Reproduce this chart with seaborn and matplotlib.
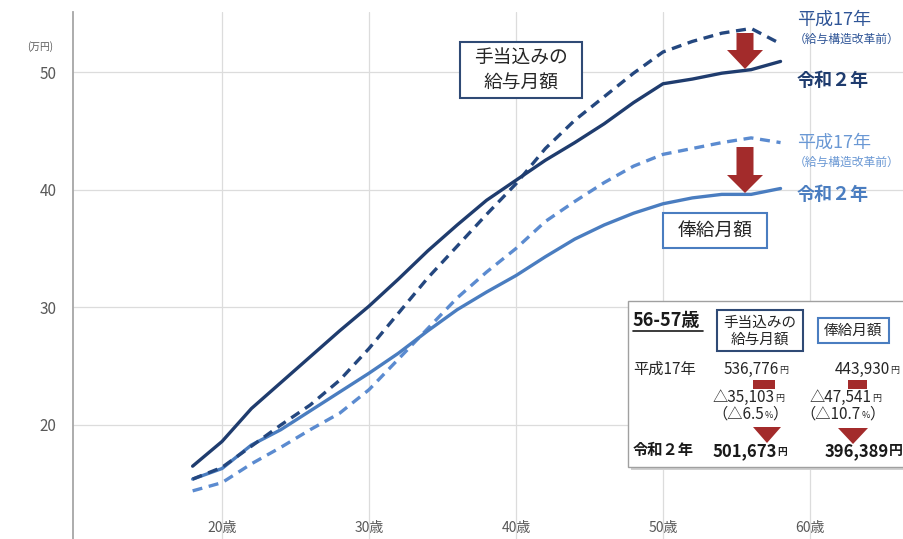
import matplotlib
matplotlib.use("Agg")
import matplotlib.pyplot as plt
import matplotlib.patches as mpatches
import seaborn as sns
import pandas as pd

# ---- data (万円) ----
ages = [18, 20, 22, 24, 26, 28, 30, 32, 34, 36, 38, 40, 42, 44, 46, 48, 50, 52, 54, 56, 58]
r2_total = [16.5, 18.6, 21.4, 23.6, 25.8, 28.0, 30.1, 32.4, 34.8, 37.0, 39.1, 40.8, 42.5, 44.0, 45.6, 47.4, 49.0, 49.4, 49.9, 50.2, 50.9]
h17_total = [15.4, 16.4, 18.2, 20.0, 21.7, 23.8, 26.5, 29.5, 32.5, 35.2, 37.9, 40.5, 43.5, 45.9, 47.9, 49.9, 51.7, 52.6, 53.3, 53.7, 52.4]
r2_base = [15.4, 16.3, 18.3, 19.6, 21.2, 22.8, 24.4, 26.1, 28.0, 29.8, 31.3, 32.7, 34.3, 35.8, 37.0, 38.0, 38.8, 39.3, 39.6, 39.6, 40.1]
h17_base = [14.4, 15.1, 16.7, 18.1, 19.6, 21.0, 23.0, 25.6, 28.2, 30.8, 33.0, 35.0, 37.3, 39.0, 40.6, 42.0, 43.0, 43.5, 44.0, 44.4, 44.0]

xtick_vals = [20, 30, 40, 50, 60]
xtick_labels = ["20歳", "30歳", "40歳", "50歳", "60歳"]
ytick_vals = [20, 30, 40, 50]

series_names = ["平成17年 俸給月額", "令和2年 俸給月額", "平成17年 手当込み", "令和2年 手当込み"]
series_values = [h17_base, r2_base, h17_total, r2_total]

df = pd.concat([pd.DataFrame({"age": ages, "value": v, "series": n})
                for n, v in zip(series_names, series_values)], ignore_index=True)

sns.set_theme(style="white")
plt.rcParams["font.family"] = ["Noto Sans CJK JP", "DejaVu Sans"]

W, H = 904, 539
fig = plt.figure(figsize=(W / 100, H / 100), dpi=100)
ax_left, ax_top = 73, 12
ax = fig.add_axes([ax_left / W, 0, 1 - ax_left / W, (H - ax_top) / H])

palette = {
    "平成17年 俸給月額": "#5B8BD0",
    "令和2年 俸給月額": "#4A7DC0",
    "平成17年 手当込み": "#24477F",
    "令和2年 手当込み": "#1F3C6E",
}
dashes = {
    "平成17年 俸給月額": (3, 2),
    "令和2年 俸給月額": "",
    "平成17年 手当込み": (3, 2),
    "令和2年 手当込み": "",
}
sns.lineplot(data=df, x="age", y="value", hue="series", style="series",
             palette=palette, dashes=dashes, linewidth=2.4, legend=False, ax=ax,
             hue_order=series_names, style_order=series_names)

ax.set_xlim(9.86, 66.4)
ax.set_ylim(10.31, 55.1)
ax.set_xticks(xtick_vals)
ax.set_xticklabels(xtick_labels)
ax.set_yticks(ytick_vals)
ax.set_xlabel("")
ax.set_ylabel("")
ax.grid(True, color="#DCDCDC", linewidth=0.9)
ax.set_axisbelow(True)
for s in ["top", "right", "bottom"]:
    ax.spines[s].set_visible(False)
ax.spines["left"].set_color("#A6A6A6")
ax.spines["left"].set_linewidth(1.3)
ax.tick_params(axis="x", length=0, pad=-13, labelsize=10, labelcolor="#595959")
ax.tick_params(axis="y", length=0, pad=12, labelsize=11, labelcolor="#595959")


def fx(x):
    return x / W


def fy(y):
    return 1 - y / H


def ftext(x, y, s, **kw):
    kw.setdefault("va", "center")
    fig.text(fx(x), fy(y), s, **kw)


def frect(x0, y0, x1, y1, **kw):
    r = mpatches.Rectangle((fx(x0), fy(y1)), fx(x1) - fx(x0), fy(y0) - fy(y1),
                           transform=fig.transFigure, **kw)
    fig.add_artist(r)


def fpoly(pts, **kw):
    p = mpatches.Polygon([(fx(a), fy(b)) for a, b in pts], closed=True,
                         transform=fig.transFigure, **kw)
    fig.add_artist(p)


ftext(40, 47, "(万円)", fontsize=7, color="#595959", ha="center")

# down arrows on chart
red = "#A32B2B"


def down_arrow(cx, top, head_start, tip, shaft_hw, head_hw):
    fpoly([(cx - shaft_hw, top), (cx + shaft_hw, top), (cx + shaft_hw, head_start),
           (cx + head_hw, head_start), (cx, tip), (cx - head_hw, head_start),
           (cx - shaft_hw, head_start)], facecolor=red, edgecolor="none")


down_arrow(745, 33, 50, 69, 8.5, 18)
down_arrow(745, 147, 175, 193, 8.5, 18)

# right-side labels
ftext(797, 20, "平成17年", fontsize=13, color="#2F5597", ha="left")
ftext(794, 39, "（給与構造改革前）", fontsize=8.5, color="#2F5597", ha="left")
ftext(797, 80, "令和２年", fontsize=13, color="#1F3C6E", ha="left", fontweight="bold")
ftext(797, 143, "平成17年", fontsize=13, color="#6A98D4", ha="left")
ftext(794, 162, "（給与構造改革前）", fontsize=8.5, color="#6A98D4", ha="left")
ftext(797, 194, "令和２年", fontsize=13, color="#4A7DC0", ha="left", fontweight="bold")

# callout boxes
frect(460, 42, 582, 98, facecolor="white", edgecolor="#2F4A75", linewidth=1.5)
ftext(521, 70, "手当込みの\n給与月額", fontsize=13.5, color="#262626", ha="center",
      linespacing=1.3, multialignment="center")
frect(663, 213, 767, 248, facecolor="white", edgecolor="#4A7DC0", linewidth=1.5)
ftext(715, 231, "俸給月額", fontsize=13.5, color="#262626", ha="center")

# summary table box
frect(631, 304, 912, 470, facecolor="#D0D0D0", edgecolor="none")
frect(628, 301, 909, 467, facecolor="white", edgecolor="#A0A0A0", linewidth=1.0)
ftext(633, 321, "56-57歳", fontsize=13, color="#1A1A1A", ha="left", fontweight="bold")
fig.add_artist(plt.Line2D([fx(633), fx(703)], [fy(331), fy(331)], color="#1A1A1A",
                          linewidth=1.2, transform=fig.transFigure))
frect(717, 310, 803, 351, facecolor="white", edgecolor="#2F4A75", linewidth=1.5)
ftext(760, 331, "手当込みの\n給与月額", fontsize=10.5, color="#262626", ha="center",
      linespacing=1.25, multialignment="center")
frect(818, 318, 889, 343, facecolor="white", edgecolor="#4A7DC0", linewidth=1.5)
ftext(853, 331, "俸給月額", fontsize=10.5, color="#262626", ha="center")

ftext(633, 369, "平成17年", fontsize=11, color="#262626", ha="left")
ftext(779, 369, "536,776", fontsize=11, color="#262626", ha="right")
ftext(779, 370, "円", fontsize=6.5, color="#262626", ha="left")
ftext(890, 369, "443,930", fontsize=11, color="#262626", ha="right")
ftext(890, 370, "円", fontsize=6.5, color="#262626", ha="left")

frect(753, 380, 775, 389, facecolor=red, edgecolor="none")
frect(848, 380, 867, 389, facecolor=red, edgecolor="none")

ftext(775, 397, "△35,103", fontsize=11, color="#262626", ha="right")
ftext(775, 398, "円", fontsize=6.5, color="#262626", ha="left")
ftext(872, 397, "△47,541", fontsize=11, color="#262626", ha="right")
ftext(872, 398, "円", fontsize=6.5, color="#262626", ha="left")
ftext(764, 414, "（△6.5", fontsize=11, color="#262626", ha="right")
ftext(765, 416, "%", fontsize=6.5, color="#262626", ha="left")
ftext(772, 414, "）", fontsize=11, color="#262626", ha="left")
ftext(861, 414, "（△10.7", fontsize=11, color="#262626", ha="right")
ftext(862, 416, "%", fontsize=6.5, color="#262626", ha="left")
ftext(869, 414, "）", fontsize=11, color="#262626", ha="left")

fpoly([(753, 427), (781, 427), (767, 443)], facecolor=red, edgecolor="none")
fpoly([(838, 428), (868, 428), (853, 444)], facecolor=red, edgecolor="none")

ftext(633, 450, "令和２年", fontsize=11, color="#1A1A1A", ha="left", fontweight="bold")
ftext(777, 451, "501,673", fontsize=12, color="#1A1A1A", ha="right", fontweight="bold")
ftext(777, 452, "円", fontsize=7, color="#1A1A1A", ha="left", fontweight="bold")
ftext(889, 451, "396,389", fontsize=12, color="#1A1A1A", ha="right", fontweight="bold")
ftext(889, 451, "円", fontsize=10, color="#1A1A1A", ha="left", fontweight="bold")

fig.savefig("out.png", dpi=100)
